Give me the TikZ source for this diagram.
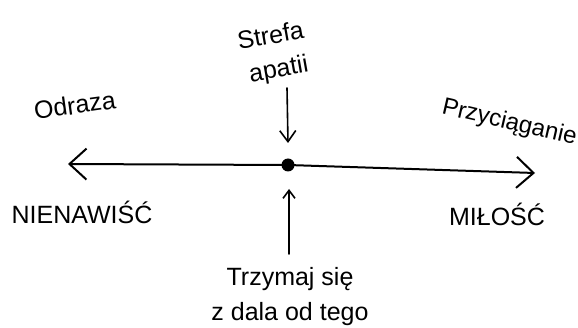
\documentclass[tikz,border=0pt]{standalone}
\usepackage{fontspec}
\setmainfont{Liberation Sans}
\usetikzlibrary{arrows.meta}
\begin{document}
\begin{tikzpicture}[x=1pt,y=-1pt,
  lbl/.style={font=\fontsize{25}{28}\selectfont, anchor=base, inner sep=0pt},
  axis/.style={line width=2pt, line cap=round, line join=round},
  bighead/.style={-{Straight Barb[length=17pt,width=31pt,line width=2pt]}},
  pointer/.style={line width=1.6pt, line cap=round},
  downhead/.style={-{Straight Barb[length=11pt,width=16pt,line width=1.6pt]}},
  uphead/.style={-{Straight Barb[length=8pt,width=12pt,line width=1.6pt]}}]
\useasboundingbox (0,0) rectangle (578,328);
% labels
\node[lbl, rotate=10] (strefa) at (272,44) {Strefa};
\node[lbl, rotate=10] (apatii) at (280,77) {apatii};
\node[lbl, rotate=8] (odraza) at (76,114) {Odraza};
\node[lbl, rotate=-13, font=\fontsize{24}{28}\selectfont] (przy) at (508,129) {Przyciąganie};
\node[lbl] (nien) at (82,224) {NIENAWIŚĆ};
\node[lbl] (milosc) at (497,226) {MIŁOŚĆ};
\node[lbl] (trzymaj) at (290,286) {Trzymaj się};
\node[lbl] (zdala) at (290,321) {z dala od tego};
% axis
\node[circle, fill=black, minimum size=13pt, inner sep=0pt] (dot) at (288,165) {};
\coordinate (ltip) at (68,164);
\coordinate (rtip) at (535,173);
\draw[axis, bighead] (dot.center) -- (ltip);
\draw[axis, bighead] (dot.center) -- (rtip);
% pointers
\coordinate (dtop) at (287,88);
\coordinate (dtip) at (288,143);
\coordinate (ubot) at (289,254);
\coordinate (utip) at (289,189);
\draw[pointer, downhead] (dtop) -- (dtip);
\draw[pointer, uphead] (ubot) -- (utip);
\end{tikzpicture}
\end{document}
